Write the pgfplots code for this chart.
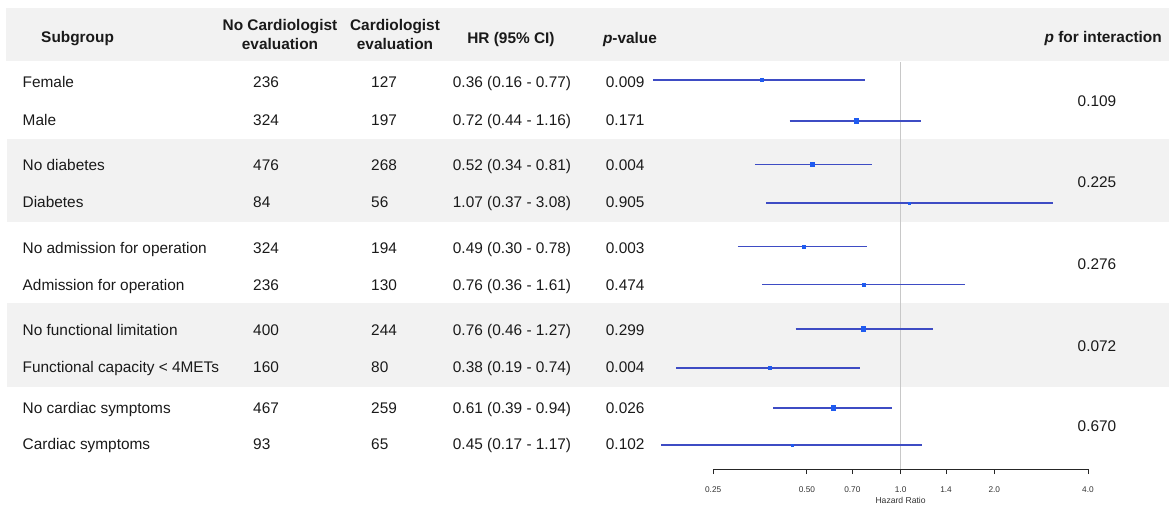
\documentclass[border=0pt]{standalone}
\usepackage{fontspec}
\setmainfont{Liberation Sans}
\usepackage{pgfplots}
\pgfplotsset{compat=1.18}
\definecolor{band}{HTML}{F2F2F2}
\definecolor{cil}{HTML}{3E4CC4}
\definecolor{ptc}{HTML}{1F5BF0}
\definecolor{txt}{HTML}{1A1A1A}
\definecolor{vline}{HTML}{C8C8C8}
\begin{document}
\begin{tikzpicture}
\useasboundingbox (0,0) rectangle (1169pt,-504pt);
\begin{scope}[x=1pt,y=-1pt]
\fill[band] (6,8) rectangle (1169,61);
\fill[band] (7,139) rectangle (1169,222);
\fill[band] (7,303) rectangle (1169,387);
\end{scope}
\begin{axis}[
  at={(713.2pt,-469pt)}, anchor=south west,
  scale only axis, width=374.8pt, height=407pt,
  xmode=log, log basis x=2,
  xmin=0.25, xmax=4, ymin=-469, ymax=-62,
  clip=false,
  axis x line*=bottom, axis y line=none,
  x axis line style={-, draw=black!85, line width=1pt},
  xtick={0.25,0.5,0.7,1,1.4,2,4},
  xticklabels={},
  tick align=outside, major tick length=5pt,
  tick style={draw=black!85, line width=1pt},
  minor tick num=0, ytick=\empty,
]
\addplot[vline, line width=0.9pt] coordinates {(1,-62) (1,-469)};
\addplot[cil, line width=1.2pt] coordinates {(0.16,-80) (0.77,-80)};
\addplot[cil, line width=1.2pt] coordinates {(0.44,-121) (1.16,-121)};
\addplot[cil, line width=1.2pt] coordinates {(0.34,-164.5) (0.81,-164.5)};
\addplot[cil, line width=1.2pt] coordinates {(0.37,-203) (3.08,-203)};
\addplot[cil, line width=1.2pt] coordinates {(0.30,-246.5) (0.78,-246.5)};
\addplot[cil, line width=1.2pt] coordinates {(0.36,-284.5) (1.61,-284.5)};
\addplot[cil, line width=1.2pt] coordinates {(0.46,-329) (1.27,-329)};
\addplot[cil, line width=1.2pt] coordinates {(0.19,-368) (0.74,-368)};
\addplot[cil, line width=1.2pt] coordinates {(0.39,-408) (0.94,-408)};
\addplot[cil, line width=1.2pt] coordinates {(0.17,-445) (1.17,-445)};
% point estimates, by box size
\addplot[ptc, only marks, mark=square*, mark size=2.1pt, mark options={fill=ptc, draw=ptc, line width=0pt}]
  coordinates {(0.72,-121) (0.52,-164.5) (0.76,-329) (0.61,-408)};
\addplot[ptc, only marks, mark=square*, mark size=1.5pt, mark options={fill=ptc, draw=ptc, line width=0pt}]
  coordinates {(0.36,-80) (0.49,-246.5) (0.76,-284.5) (0.38,-368)};
\addplot[ptc, only marks, mark=square*, mark size=1.0pt, mark options={fill=ptc, draw=ptc, line width=0pt}]
  coordinates {(1.07,-203) (0.45,-445)};
\begin{scope}[every node/.style={inner sep=0pt, text=black!80, font=\fontsize{8.3}{9}\selectfont, anchor=base}]
\node at (axis cs:0.25,-492) {0.25};
\node at (axis cs:0.5,-492) {0.50};
\node at (axis cs:0.7,-492) {0.70};
\node at (axis cs:1,-492) {1.0};
\node at (axis cs:1.4,-492) {1.4};
\node at (axis cs:2,-492) {2.0};
\node at (axis cs:4,-492) {4.0};
\node[font=\fontsize{8.6}{9}\selectfont] at (axis cs:1,-503.5) {Hazard Ratio};
\end{scope}
\end{axis}
\begin{scope}[x=1pt,y=-1pt, every node/.style={inner sep=0pt, text=txt, font=\fontsize{15.4}{18}\selectfont}]
% header
\node[anchor=base, font=\fontsize{15.4}{18}\selectfont\bfseries] at (77.6,42.5) {Subgroup};
\node[anchor=base, font=\fontsize{15.4}{18}\selectfont\bfseries] at (280,30) {No Cardiologist};
\node[anchor=base, font=\fontsize{15.4}{18}\selectfont\bfseries] at (280,49.3) {evaluation};
\node[anchor=base, font=\fontsize{15.4}{18}\selectfont\bfseries] at (395,30) {Cardiologist};
\node[anchor=base, font=\fontsize{15.4}{18}\selectfont\bfseries] at (395,49.3) {evaluation};
\node[anchor=base, font=\fontsize{15.4}{18}\selectfont\bfseries] at (511,43) {HR (95\% CI)};
\node[anchor=base, font=\fontsize{15.4}{18}\selectfont\bfseries] at (630,43) {\textit{p}-value};
\node[anchor=base east, font=\fontsize{15.4}{18}\selectfont\bfseries] at (1162,42.7) {\textit{p} for interaction};
% labels
\node[anchor=base west] at (22.5,87.5) {Female};
\node[anchor=base west] at (22.5,125.5) {Male};
\node[anchor=base west] at (22.5,170) {No diabetes};
\node[anchor=base west] at (22.5,207) {Diabetes};
\node[anchor=base west] at (22.5,253) {No admission for operation};
\node[anchor=base west] at (22.5,290) {Admission for operation};
\node[anchor=base west] at (22.5,335) {No functional limitation};
\node[anchor=base west] at (22.5,372.5) {Functional capacity < 4METs};
\node[anchor=base west] at (22.5,413.5) {No cardiac symptoms};
\node[anchor=base west] at (22.5,449.5) {Cardiac symptoms};
% no cardiologist
\node[anchor=base west] at (253,87.5) {236};
\node[anchor=base west] at (253,125.5) {324};
\node[anchor=base west] at (253,170) {476};
\node[anchor=base west] at (253,207) {84};
\node[anchor=base west] at (253,253) {324};
\node[anchor=base west] at (253,290) {236};
\node[anchor=base west] at (253,335) {400};
\node[anchor=base west] at (253,372.5) {160};
\node[anchor=base west] at (253,413.5) {467};
\node[anchor=base west] at (253,449.5) {93};
% cardiologist
\node[anchor=base west] at (371,87.5) {127};
\node[anchor=base west] at (371,125.5) {197};
\node[anchor=base west] at (371,170) {268};
\node[anchor=base west] at (371,207) {56};
\node[anchor=base west] at (371,253) {194};
\node[anchor=base west] at (371,290) {130};
\node[anchor=base west] at (371,335) {244};
\node[anchor=base west] at (371,372.5) {80};
\node[anchor=base west] at (371,413.5) {259};
\node[anchor=base west] at (371,449.5) {65};
% HR
\node[anchor=base west] at (452.7,87.5) {0.36 (0.16 - 0.77)};
\node[anchor=base west] at (452.7,125.5) {0.72 (0.44 - 1.16)};
\node[anchor=base west] at (452.7,170) {0.52 (0.34 - 0.81)};
\node[anchor=base west] at (452.7,207) {1.07 (0.37 - 3.08)};
\node[anchor=base west] at (452.7,253) {0.49 (0.30 - 0.78)};
\node[anchor=base west] at (452.7,290) {0.76 (0.36 - 1.61)};
\node[anchor=base west] at (452.7,335) {0.76 (0.46 - 1.27)};
\node[anchor=base west] at (452.7,372.5) {0.38 (0.19 - 0.74)};
\node[anchor=base west] at (452.7,413.5) {0.61 (0.39 - 0.94)};
\node[anchor=base west] at (452.7,449.5) {0.45 (0.17 - 1.17)};
% p-value
\node[anchor=base west] at (605.7,87.5) {0.009};
\node[anchor=base west] at (605.7,125.5) {0.171};
\node[anchor=base west] at (605.7,170) {0.004};
\node[anchor=base west] at (605.7,207) {0.905};
\node[anchor=base west] at (605.7,253) {0.003};
\node[anchor=base west] at (605.7,290) {0.474};
\node[anchor=base west] at (605.7,335) {0.299};
\node[anchor=base west] at (605.7,372.5) {0.004};
\node[anchor=base west] at (605.7,413.5) {0.026};
\node[anchor=base west] at (605.7,449.5) {0.102};
% p for interaction
\node[anchor=base] at (1097,106.8) {0.109};
\node[anchor=base] at (1097,187.7) {0.225};
\node[anchor=base] at (1097,269.6) {0.276};
\node[anchor=base] at (1097,351.2) {0.072};
\node[anchor=base] at (1097,431.5) {0.670};
\end{scope}
\end{tikzpicture}
\end{document}
